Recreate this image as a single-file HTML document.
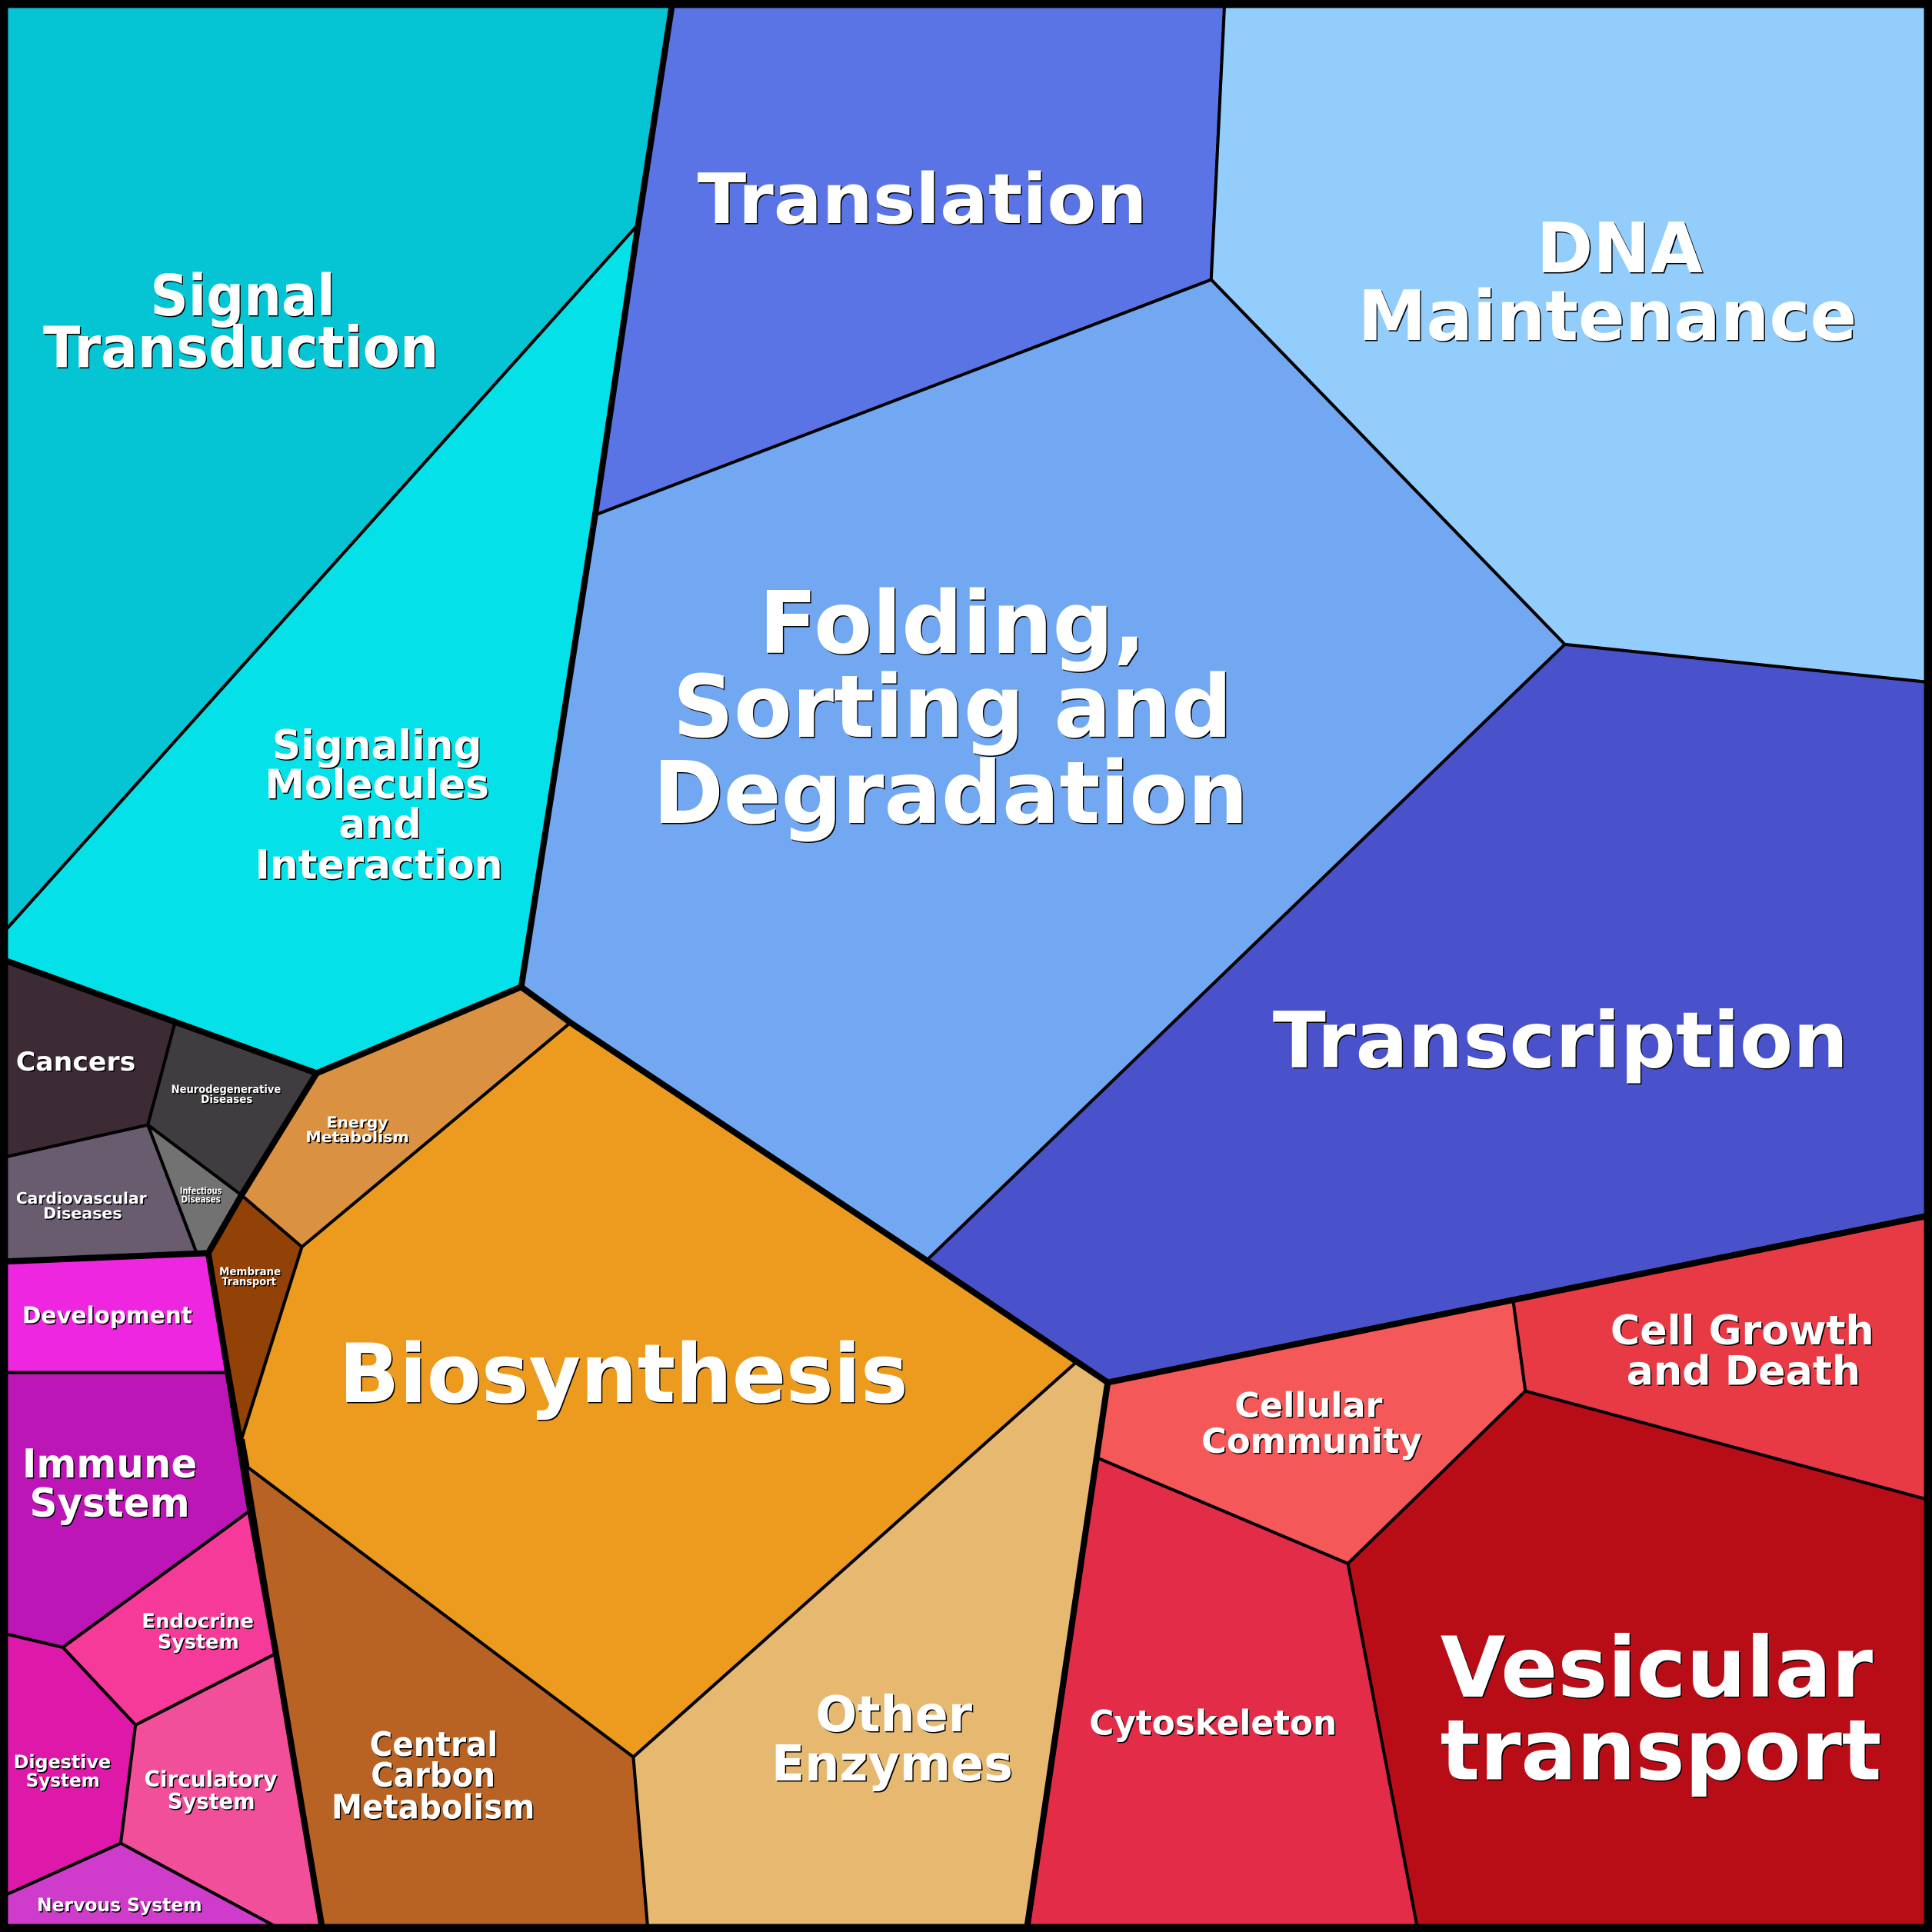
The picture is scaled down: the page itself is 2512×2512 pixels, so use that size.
<!DOCTYPE html>
<html><head><meta charset="utf-8"><style>
html,body{margin:0;padding:0;background:#000}
svg{display:block}
text{font-family:"DejaVu Sans","Liberation Sans",sans-serif;font-weight:bold;fill:#fff;text-anchor:start}
.t{text-shadow:1.5px 1.5px 0 #000}
</style></head><body>
<svg width="2512" height="2512" viewBox="0 0 1568 1568" xmlns="http://www.w3.org/2000/svg">
<g stroke="#000" stroke-width="2.5" stroke-linejoin="round">
<polygon fill="#05c4d4" points="0,0 546,0 518,182 0,760"/>
<polygon fill="#05e1e9" points="518,182 0,760 0,778 257,871 423,801 483,418"/>
<polygon fill="#5a74e6" points="546,0 994,0 983,227 483,418 518,182"/>
<polygon fill="#92cdfc" points="994,0 1568,0 1568,554 1270,523 983,227"/>
<polygon fill="#72a8f2" points="483,418 983,227 1270,523 752,1023 463,830 423,801"/>
<polygon fill="#4a52cb" points="1270,523 1568,554 1568,986 1228,1055 899,1122 752,1023"/>
<polygon fill="#3c2a35" points="0,778 142,830 120,913 0,940"/>
<polygon fill="#403d40" points="142,830 257,871 196,970 120,913"/>
<polygon fill="#685c6e" points="0,940 120,913 160,1018 0,1024"/>
<polygon fill="#727272" points="120,913 196,970 169,1017 160,1018"/>
<polygon fill="#da9142" points="257,871 423,801 463,830 245,1012 196,970"/>
<polygon fill="#924206" points="196,970 245,1012 196,1168 169,1017"/>
<polygon fill="#ed9b1e" points="463,830 752,1023 873,1106 514,1426 200,1190 196,1168 245,1012"/>
<polygon fill="#ee26e0" points="0,1024 169,1017 185,1114 0,1114"/>
<polygon fill="#bd16b6" points="0,1114 185,1114 203,1226 51,1337 0,1325"/>
<polygon fill="#f63a9a" points="51,1337 203,1226 224,1342 110,1400"/>
<polygon fill="#de19aa" points="0,1325 51,1337 110,1400 98,1496 0,1540"/>
<polygon fill="#f14f99" points="110,1400 224,1342 262,1568 232,1568 98,1496"/>
<polygon fill="#cf3bcb" points="0,1540 98,1496 232,1568 0,1568"/>
<polygon fill="#b86223" points="200,1190 514,1426 526,1568 262,1568"/>
<polygon fill="#e7b870" points="873,1106 899,1122 833,1568 526,1568 514,1426"/>
<polygon fill="#f55858" points="899,1122 1228,1055 1238,1129 1094,1269 890,1183"/>
<polygon fill="#e73a45" points="1228,1055 1568,986 1568,1218 1238,1129"/>
<polygon fill="#e32c47" points="890,1183 1094,1269 1151,1568 833,1568"/>
<polygon fill="#b80d17" points="1094,1269 1238,1129 1568,1218 1568,1568 1151,1568"/>
</g>
<g stroke="#000" stroke-width="5" fill="none" stroke-linejoin="round">
<polyline points="546,0 518,182 483,418 423,801 257,871 0,778"/>
<polyline points="257,871 196,970 169,1017 0,1024"/>
<polyline points="169,1017 185,1114 203,1226 224,1342 262,1568"/>
<polyline points="423,801 463,830 752,1023 899,1122 1228,1055 1568,986"/>
<polyline points="899,1122 890,1183 833,1568"/>
<polyline points="196,1168 200,1190"/>
</g>
<rect x="3" y="3" width="1562" height="1562" fill="none" stroke="#000" stroke-width="7"/>
<g class="t">
<text x="566" y="181" font-size="56" textLength="365" lengthAdjust="spacingAndGlyphs">Translation</text>
<text x="122" y="256" font-size="46" textLength="150" lengthAdjust="spacingAndGlyphs">Signal</text>
<text x="35" y="298" font-size="46" textLength="321" lengthAdjust="spacingAndGlyphs">Transduction</text>
<text x="1247" y="221" font-size="56" textLength="135" lengthAdjust="spacingAndGlyphs">DNA</text>
<text x="1102" y="276" font-size="56" textLength="405" lengthAdjust="spacingAndGlyphs">Maintenance</text>
<text x="616" y="530" font-size="70" textLength="314" lengthAdjust="spacingAndGlyphs">Folding,</text>
<text x="546" y="598" font-size="70" textLength="454" lengthAdjust="spacingAndGlyphs">Sorting and</text>
<text x="530" y="668" font-size="70" textLength="483" lengthAdjust="spacingAndGlyphs">Degradation</text>
<text x="221" y="616" font-size="33" textLength="170" lengthAdjust="spacingAndGlyphs">Signaling</text>
<text x="215" y="648" font-size="33" textLength="182" lengthAdjust="spacingAndGlyphs">Molecules</text>
<text x="275" y="680" font-size="33" textLength="67" lengthAdjust="spacingAndGlyphs">and</text>
<text x="207" y="713" font-size="33" textLength="201" lengthAdjust="spacingAndGlyphs">Interaction</text>
<text x="1033" y="866" font-size="63" textLength="467" lengthAdjust="spacingAndGlyphs">Transcription</text>
<text x="13" y="869" font-size="21" textLength="97" lengthAdjust="spacingAndGlyphs">Cancers</text>
<text x="139" y="887" font-size="9" textLength="89" lengthAdjust="spacingAndGlyphs">Neurodegenerative</text>
<text x="163" y="895" font-size="9" textLength="42" lengthAdjust="spacingAndGlyphs">Diseases</text>
<text x="13" y="977" font-size="13" textLength="106" lengthAdjust="spacingAndGlyphs">Cardiovascular</text>
<text x="35" y="989" font-size="13" textLength="64" lengthAdjust="spacingAndGlyphs">Diseases</text>
<text x="146" y="969" font-size="8" textLength="34" lengthAdjust="spacingAndGlyphs">Infectious</text>
<text x="147" y="976" font-size="8" textLength="32" lengthAdjust="spacingAndGlyphs">Diseases</text>
<text x="265" y="915" font-size="12" textLength="50" lengthAdjust="spacingAndGlyphs">Energy</text>
<text x="248" y="927" font-size="12" textLength="84" lengthAdjust="spacingAndGlyphs">Metabolism</text>
<text x="178" y="1035" font-size="9" textLength="50" lengthAdjust="spacingAndGlyphs">Membrane</text>
<text x="180" y="1043" font-size="9" textLength="44" lengthAdjust="spacingAndGlyphs">Transport</text>
<text x="275" y="1138" font-size="66" textLength="462" lengthAdjust="spacingAndGlyphs">Biosynthesis</text>
<text x="18" y="1074" font-size="19" textLength="138" lengthAdjust="spacingAndGlyphs">Development</text>
<text x="18" y="1199" font-size="32" textLength="142" lengthAdjust="spacingAndGlyphs">Immune</text>
<text x="24" y="1231" font-size="32" textLength="130" lengthAdjust="spacingAndGlyphs">System</text>
<text x="115" y="1321" font-size="16" textLength="91" lengthAdjust="spacingAndGlyphs">Endocrine</text>
<text x="128" y="1338" font-size="16" textLength="66" lengthAdjust="spacingAndGlyphs">System</text>
<text x="11" y="1435" font-size="15" textLength="79" lengthAdjust="spacingAndGlyphs">Digestive</text>
<text x="21" y="1450" font-size="15" textLength="60" lengthAdjust="spacingAndGlyphs">System</text>
<text x="117" y="1450" font-size="18" textLength="108" lengthAdjust="spacingAndGlyphs">Circulatory</text>
<text x="136" y="1468" font-size="18" textLength="71" lengthAdjust="spacingAndGlyphs">System</text>
<text x="30" y="1551" font-size="15" textLength="134" lengthAdjust="spacingAndGlyphs">Nervous System</text>
<text x="300" y="1425" font-size="27" textLength="104" lengthAdjust="spacingAndGlyphs">Central</text>
<text x="301" y="1450" font-size="27" textLength="101" lengthAdjust="spacingAndGlyphs">Carbon</text>
<text x="269" y="1476" font-size="27" textLength="165" lengthAdjust="spacingAndGlyphs">Metabolism</text>
<text x="662" y="1405" font-size="40" textLength="127" lengthAdjust="spacingAndGlyphs">Other</text>
<text x="626" y="1445" font-size="40" textLength="196" lengthAdjust="spacingAndGlyphs">Enzymes</text>
<text x="1002" y="1150" font-size="28" textLength="120" lengthAdjust="spacingAndGlyphs">Cellular</text>
<text x="975" y="1179" font-size="28" textLength="179" lengthAdjust="spacingAndGlyphs">Community</text>
<text x="1307" y="1091" font-size="33" textLength="214" lengthAdjust="spacingAndGlyphs">Cell Growth</text>
<text x="1320" y="1124" font-size="33" textLength="190" lengthAdjust="spacingAndGlyphs">and Death</text>
<text x="884" y="1408" font-size="28" textLength="201" lengthAdjust="spacingAndGlyphs">Cytoskeleton</text>
<text x="1169" y="1377" font-size="68" textLength="351" lengthAdjust="spacingAndGlyphs">Vesicular</text>
<text x="1169" y="1444" font-size="68" textLength="358" lengthAdjust="spacingAndGlyphs">transport</text>
</g>
</svg>
</body></html>
